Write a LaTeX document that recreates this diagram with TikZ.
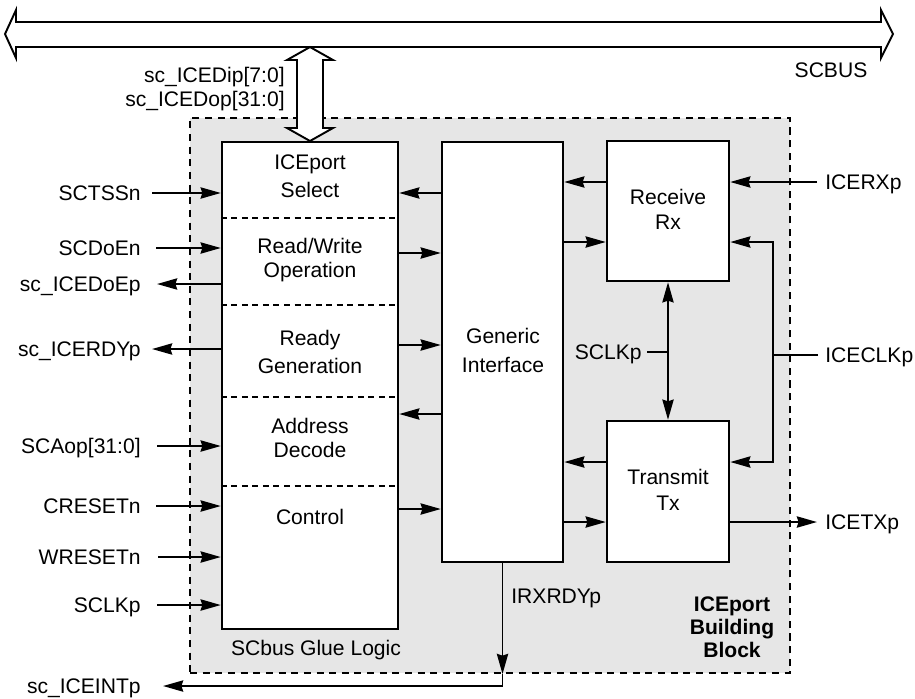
\documentclass[tikz,border=0pt]{standalone}
\usepackage{fontspec}
\setmainfont{Liberation Sans}
\usetikzlibrary{arrows.meta,fit,calc}
\definecolor{blockgray}{RGB}{230,230,230}
\begin{document}
\begin{tikzpicture}[x=0.02cm,y=-0.02cm,
  font=\fontsize{12}{14}\selectfont,
  box/.style={draw, line width=1.4pt, fill=white, inner sep=0pt},
  txt/.style={anchor=base, inner sep=0pt},
  lbl/.style={inner sep=0pt, text height=8.6pt, text depth=0pt},
  wire/.style={line width=1.1pt},
  sig/.style={wire, -{Stealth[length=11.5pt,width=6.4pt,inset=1pt]}},
  sigb/.style={wire, {Stealth[length=11.5pt,width=6.4pt,inset=1pt]}-{Stealth[length=11.5pt,width=6.4pt,inset=1pt]}},
  divider/.style={line width=1.1pt, dash pattern=on 3.4pt off 2.6pt},
  busline/.style={line width=1.1pt, fill=white, line join=miter}
]
\useasboundingbox (0,0) rectangle (915,698);

% building block background
\node[fit={(190,118) (790,673)}, inner sep=0pt, draw, fill=blockgray,
      line width=1.2pt, dash pattern=on 4pt off 3.2pt] (blk) {};

% SCBUS
\draw[busline] (16,22) -- (881,22) -- (881,10) -- (893,34) -- (881,58) -- (881,47)
  -- (16,47) -- (16,58) -- (5,34) -- (16,10) -- cycle;
\node[txt] (scbus) at (831,77) {SCBUS};

% data double arrow
\draw[busline] (310,47) -- (333,60) -- (323,60) -- (323,128) -- (333,128) -- (310,141)
  -- (287,128) -- (297,128) -- (297,60) -- (287,60) -- cycle;
\node[txt, anchor=base east] (dip) at (285,82) {sc\_ICEDip[7:0]};
\node[txt, anchor=base east] (dop) at (285,106) {sc\_ICEDop[31:0]};

% boxes
\node[box, fit={(222,142) (398,629)}] (glue) {};
\node[box, fit={(442,142) (563,562)}] (gen) {};
\node[box, fit={(607,141) (729,281)}] (rx) {};
\node[box, fit={(607,421) (729,562)}] (tx) {};

% dividers
\foreach \yy in {218,305,397,486}
  \draw[divider] (glue.west |- 0,\yy) -- (glue.east |- 0,\yy);

% box texts
\node[txt] (t1a) at (310,169) {ICEport};
\node[txt] (t1b) at (310,197) {Select};
\node[txt] (t2a) at (310,253) {Read/Write};
\node[txt] (t2b) at (310,277) {Operation};
\node[txt] (t3a) at (310,345) {Ready};
\node[txt] (t3b) at (310,373) {Generation};
\node[txt] (t4a) at (310,433) {Address};
\node[txt] (t4b) at (310,457) {Decode};
\node[txt] (t5) at (310,524) {Control};
\node[txt] (t6) at (316,655) {SCbus Glue Logic};
\node[txt] (g1) at (503,343) {Generic};
\node[txt] (g2) at (503,372) {Interface};
\node[txt] (r1) at (668,204) {Receive};
\node[txt] (r2) at (668,229) {Rx};
\node[txt] (x1) at (668,484) {Transmit};
\node[txt] (x2) at (668,510) {Tx};
\node[txt, font=\fontsize{12}{14}\selectfont\bfseries] (b1) at (732,611) {ICEport};
\node[txt, font=\fontsize{12}{14}\selectfont\bfseries] (b2) at (732,634) {Building};
\node[txt, font=\fontsize{12}{14}\selectfont\bfseries] (b3) at (732,657) {Block};

% left labels
\node[lbl, anchor=east] (sctssn) at (141,193) {SCTSSn};
\node[lbl, anchor=east] (scdoen) at (141,248) {SCDoEn};
\node[lbl, anchor=east] (doep) at (141,284) {sc\_ICEDoEp};
\node[lbl, anchor=east] (rdyp) at (141,349) {sc\_ICERDYp};
\node[lbl, anchor=east] (scaop) at (141,446) {SCAop[31:0]};
\node[lbl, anchor=east] (creset) at (141,506) {CRESETn};
\node[lbl, anchor=east] (wreset) at (141,557) {WRESETn};
\node[lbl, anchor=east] (sclk) at (141,605) {SCLKp};
\node[lbl, anchor=east] (intp) at (141,686) {sc\_ICEINTp};

\draw[sig] ($(sctssn.east)+(11,0)$) -- (sctssn -| glue.west);
\draw[sig] ($(scdoen.east)+(15,0)$) -- (scdoen -| glue.west);
\draw[sig] (doep -| glue.west) -- ($(doep.east)+(16,0)$);
\draw[sig] (rdyp -| glue.west) -- ($(rdyp.east)+(11,0)$);
\draw[sig] ($(scaop.east)+(16,0)$) -- (scaop -| glue.west);
\draw[sig] ($(creset.east)+(15,0)$) -- (creset -| glue.west);
\draw[sig] ($(wreset.east)+(17,0)$) -- (wreset -| glue.west);
\draw[sig] ($(sclk.east)+(16,0)$) -- (sclk -| glue.west);

% glue <-> generic
\draw[sig] (gen.west |- 0,193) -- (glue.east |- 0,193);
\draw[sig] (glue.east |- 0,253) -- (gen.west |- 0,253);
\draw[sig] (glue.east |- 0,345) -- (gen.west |- 0,345);
\draw[sig] (gen.west |- 0,414) -- (glue.east |- 0,414);
\draw[sig] (glue.east |- 0,509) -- (gen.west |- 0,509);

% generic <-> rx/tx
\draw[sig] (rx.west |- 0,182) -- (gen.east |- 0,182);
\draw[sig] (gen.east |- 0,242) -- (rx.west |- 0,242);
\draw[sig] (tx.west |- 0,462) -- (gen.east |- 0,462);
\draw[sig] (gen.east |- 0,522) -- (tx.west |- 0,522);

% right side
\node[lbl, anchor=west] (icerx) at (825,182) {ICERXp};
\node[lbl, anchor=west] (iceclk) at (825,355) {ICECLKp};
\node[lbl, anchor=west] (icetx) at (825,522) {ICETXp};
\draw[sig] ($(icerx.west)+(-8,0)$) -- (icerx -| rx.east);
\coordinate (clkj) at (773,355);
\draw[wire] ($(iceclk.west)+(-7,0)$) -- (clkj);
\draw[sig] (clkj) |- (rx.east |- 0,242);
\draw[sig] (clkj) |- (tx.east |- 0,462);
\draw[sig] (icetx -| tx.east) -- ($(icetx.west)+(-8,0)$);

% internal SCLKp
\node[lbl, anchor=east] (sclkin) at (642,352) {SCLKp};
\draw[sigb] (rx.south) -- (tx.north);
\draw[wire] ($(sclkin.east)+(5,0)$) -- (sclkin -| rx.south);

% IRXRDYp / sc_ICEINTp
\node[txt, anchor=base west] (irx) at (511,603) {IRXRDYp};
\draw[sig] (gen.south) -- (gen.south |- blk.south);
\draw[sig] (gen.south |- blk.south) -- (gen.south |- intp) -- ($(intp.east)+(22,0)$);
\end{tikzpicture}
\end{document}
